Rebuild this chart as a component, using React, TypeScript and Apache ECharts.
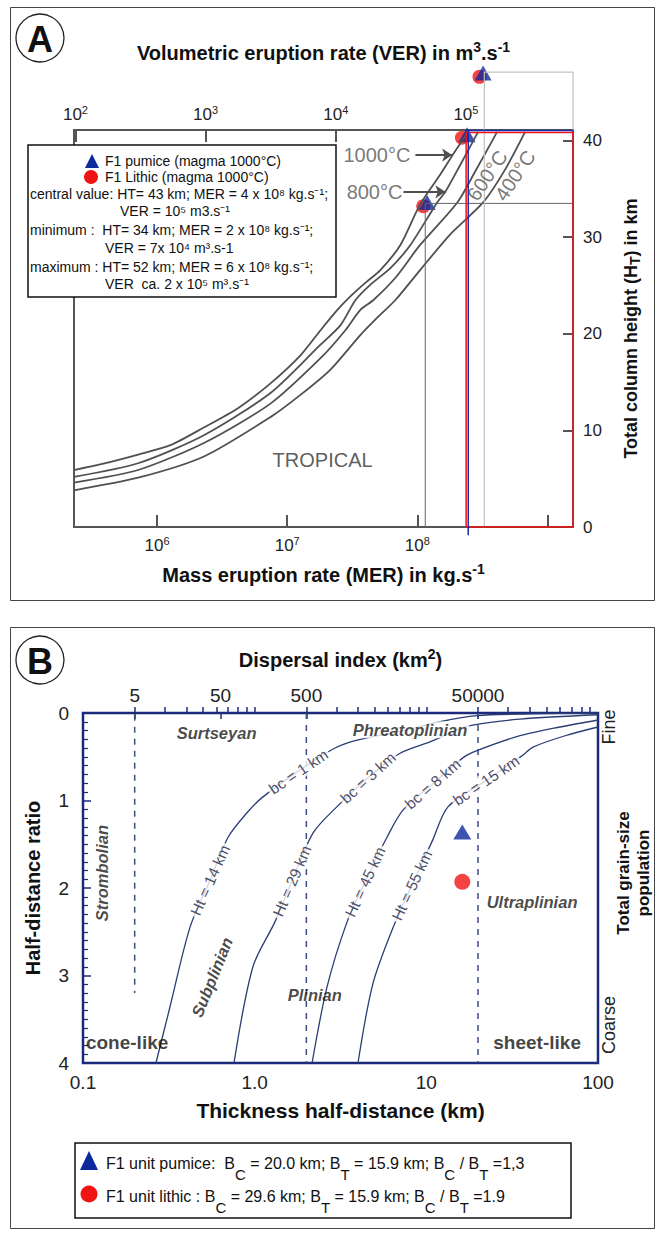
import React, { useEffect, useRef } from 'react';
import * as echarts from 'echarts';

const FONT = "'Liberation Sans', Arial, Helvetica, sans-serif";

// ================= Panel A : MER vs total column height (tropical) =================
// [mass eruption rate (kg/s), total column height (km)]
const curve1000C = [[2.3e5, 5.9], [3.72e5, 6.5], [7.15e5, 7.5], [1.28e6, 8.5], [2.29e6, 10.3], [4.18e6, 12.3], [7.48e6, 14.9], [1.27e7, 17.8], [1.81e7, 20.4], [2.44e7, 22.5], [3.07e7, 23.9], [4.0e7, 25.3], [5.2e7, 26.6], [7.41e7, 29.2], [1.05e8, 33.4], [1.5e8, 36.5], [1.95e8, 38.9], [2.46e8, 40.9]];
const curve800C = [[2.3e5, 5.2], [7.15e5, 6.6], [2.29e6, 9.5], [7.48e6, 13.9], [1.81e7, 18.9], [2.57e7, 20.9], [3.35e7, 23.5], [4.36e7, 25.1], [6.21e7, 26.8], [8.84e7, 29.2], [1.42e8, 33.6], [1.64e8, 34.7], [2.14e8, 37.5], [2.93e8, 40.9]];
const curve600C = [[2.3e5, 4.6], [7.15e5, 5.9], [2.29e6, 8.7], [7.48e6, 12.8], [1.81e7, 17.5], [2.81e7, 20.4], [3.66e7, 22.5], [4.6e7, 23.5], [6.78e7, 25.8], [1.05e8, 29.2], [2.03e8, 33.6], [2.78e8, 36.8], [4.1e8, 40.9]];
const curve400C = [[2.3e5, 3.8], [7.15e5, 5.1], [2.29e6, 7.3], [7.48e6, 11.4], [1.27e7, 13.7], [2.15e7, 16.3], [3.66e7, 19.9], [4.77e7, 21.5], [6.78e7, 23.5], [1.05e8, 26.6], [1.79e8, 30.3], [3.2e8, 33.6], [4.72e8, 37.0], [6.73e8, 40.9]];

// F1 estimates: max, central, min
const pumiceA = [[3.2e8, 47.0], [2.41e8, 40.6], [1.19e8, 33.6]];
const lithicA = [[3.0e8, 46.6], [2.2e8, 40.3], [1.11e8, 33.2]];

const MER_MIN = 2.3e5;
const MER_MAX = 1.57e9;
const HT_MAX = 41.1;
const VER_TO_MER = 2360; // kg/m3 implied by the two scales

// guide lines
const minGuide = [[1.15e8, 0], [1.15e8, 33.5], [MER_MAX, 33.5]];
const maxGuide = [[3.27e8, 0], [3.27e8, 47.1], [MER_MAX, 47.1], [MER_MAX, HT_MAX]];
const redBox = [[2.37e8, 0], [2.37e8, 40.85], [MER_MAX, 40.85], [MER_MAX, 0], [2.37e8, 0]];
const blueGuide = [[2.46e8, -0.85], [2.46e8, 41.05], [MER_MAX, 41.05]];

const merTickValues = [1e6, 1e7, 1e8, 1e9];
const merLabelValues = [1e6, 1e7, 1e8];
const verLabelValues = [1e2, 1e3, 1e4, 1e5];
const heightTicks = [0, 10, 20, 30, 40];

const aTempText = [
  { text: '1000°C', at: [8.84e7, 38.5], angle: 0, align: 'right' },
  { text: '800°C', at: [7.68e7, 34.7], angle: 0, align: 'right' },
  { text: '600°C', at: [3.44e8, 36.4], angle: 56, align: 'center' },
  { text: '400°C', at: [5.64e8, 36.4], angle: 56, align: 'center' },
];
const aArrows = [
  [[9.66e7, 38.5], [1.85e8, 38.5]],
  [[7.82e7, 34.7], [1.64e8, 34.7]],
];
const aRegion = { text: 'TROPICAL', at: [1.87e7, 6.9] };

// ================= Panel B : thickness half-distance vs half-distance ratio =================
// [thickness half-distance bt (km), half-distance ratio bc/bt]
const curveHt14 = [[0.266, 4.0], [0.321, 3.36], [0.42, 2.45], [0.55, 1.91], [0.70, 1.42], [0.902, 1.14], [1.10, 0.97], [1.84, 0.65], [2.94, 0.40], [3.95, 0.31], [7.03, 0.21], [12.0, 0.10], [19.7, 0.03], [40.2, 0.01], [100, 0.0]];
const curveHt29 = [[0.758, 4.0], [0.977, 2.90], [1.31, 2.39], [1.65, 1.92], [2.19, 1.37], [3.02, 1.07], [4.57, 0.74], [7.03, 0.46], [10.5, 0.33], [17.5, 0.15], [35.2, 0.07], [100, 0.02]];
const curveHt45 = [[2.16, 4.0], [2.64, 3.13], [3.45, 2.39], [4.40, 1.93], [5.90, 1.42], [7.31, 1.11], [10.9, 0.81], [16.4, 0.51], [19.7, 0.43], [33.7, 0.27], [60.1, 0.16], [100, 0.08]];
const curveHt55 = [[4.00, 4.0], [4.89, 3.09], [6.56, 2.40], [8.24, 1.97], [10.9, 1.45], [13.4, 1.07], [22.3, 0.77], [36.6, 0.48], [41.8, 0.39], [64.3, 0.26], [100, 0.16]];

const pumiceB = [[16.2, 1.36]];
const lithicB = [[16.2, 1.93]];

const regimeBoundaries = [
  { x: 0.2, from: 0.02, to: 3.2 },
  { x: 2, from: 0, to: 4 },
  { x: 20, from: 0, to: 4 },
];

const thicknessLabelValues = [0.1, 1, 10, 100];
const thicknessLabels = ['0.1', '1.0', '10', '100'];
const thicknessMinorTicks = [0.2, 0.3, 0.4, 0.5, 0.6, 0.7, 0.8, 0.9, 1, 2, 3, 4, 5, 6, 7, 8, 9, 10, 20, 30, 40, 50, 60, 70, 80, 90];
const dispersalLabels = [5, 50, 500, 50000];
const DISP_FACTOR = 125; // D = 125 * bt^2 (km2)

const bCurveLabels = [
  { text: 'Ht = 14 km', at: [0.55, 1.91], angle: 66 },
  { text: 'bc = 1 km', at: [1.80, 0.67], angle: 34 },
  { text: 'Ht = 29 km', at: [1.65, 1.92], angle: 67 },
  { text: 'bc = 3 km', at: [4.57, 0.74], angle: 42 },
  { text: 'Ht = 45 km', at: [4.40, 1.93], angle: 65 },
  { text: 'bc = 8 km', at: [10.9, 0.81], angle: 41 },
  { text: 'Ht = 55 km', at: [8.24, 1.97], angle: 65 },
  { text: 'bc = 15 km', at: [22.3, 0.77], angle: 34 },
];
const bRegimeText = [
  { text: 'Surtseyan', at: [0.60, 0.23], angle: 0, bg: false },
  { text: 'Phreatoplinian', at: [8.04, 0.19], angle: 0, bg: true },
  { text: 'Strombolian', at: [0.129, 1.83], angle: 90, bg: false },
  { text: 'Subplinian', at: [0.564, 3.02], angle: 68, bg: false },
  { text: 'Plinian', at: [2.24, 3.22], angle: 0, bg: false },
  { text: 'Ultraplinian', at: [41.3, 2.16], angle: 0, bg: false },
];
const bShapeText = [
  { text: 'cone-like', at: [0.104, 3.77], align: 'left' },
  { text: 'sheet-like', at: [44.2, 3.77], align: 'center' },
];

const NAVY = '#1b2a7a';
const CURVE_B = '#2b3d74';
const BLUE = '#0d2a9c';
const RED = '#f01414';

function buildOption(): any {
  const supRich = (size: number, raise: number) => ({ fontSize: size, fontFamily: FONT, color: '#222', padding: [0, 0, raise, 0] });
  const titleRich = (size: number) => ({
    t: { fontSize: size, fontWeight: 'bold', fontFamily: FONT, color: '#111' },
    p: { fontSize: Math.round(size * 0.7), fontWeight: 'bold', fontFamily: FONT, color: '#111', padding: [0, 0, 12, 0] },
    b: { fontSize: Math.round(size * 0.75), fontWeight: 'bold', fontFamily: FONT, color: '#111', padding: [9, 0, 0, 0] },
  });
  const pow10Rich = { b: { fontSize: 17, fontFamily: FONT, color: '#222' }, s: supRich(11, 10) };

  const annoBase = { type: 'scatter', silent: true, symbolSize: 1, itemStyle: { color: 'rgba(0,0,0,0)' }, clip: false, emphasis: { disabled: true }, z: 6 };

  const series: any[] = [
    // ---------- Panel A ----------
    {
      type: 'line', name: '1000°C', xAxisIndex: 0, yAxisIndex: 0, data: curve1000C, showSymbol: false, smooth: 0.25, silent: true,
      lineStyle: { color: '#505050', width: 1.8 },
      markLine: {
        silent: true, symbol: ['none', 'arrow'], symbolSize: 10, label: { show: false },
        lineStyle: { color: '#505050', width: 1.8, type: 'solid' },
        data: aArrows.map(([a, b]) => [{ coord: a }, { coord: b }]),
      },
    },
    { type: 'line', name: '800°C', xAxisIndex: 0, yAxisIndex: 0, data: curve800C, showSymbol: false, smooth: 0.25, silent: true, lineStyle: { color: '#505050', width: 1.8 } },
    { type: 'line', name: '600°C', xAxisIndex: 0, yAxisIndex: 0, data: curve600C, showSymbol: false, smooth: 0.25, silent: true, lineStyle: { color: '#505050', width: 1.8 } },
    { type: 'line', name: '400°C', xAxisIndex: 0, yAxisIndex: 0, data: curve400C, showSymbol: false, smooth: 0.25, silent: true, lineStyle: { color: '#505050', width: 1.8 } },
    { type: 'line', xAxisIndex: 0, yAxisIndex: 0, data: minGuide, showSymbol: false, clip: false, silent: true, lineStyle: { color: '#666', width: 1 } },
    { type: 'line', xAxisIndex: 0, yAxisIndex: 0, data: maxGuide, showSymbol: false, clip: false, silent: true, lineStyle: { color: '#c2c2c2', width: 1.2 } },
    { type: 'line', xAxisIndex: 0, yAxisIndex: 0, data: redBox, showSymbol: false, clip: false, silent: true, lineStyle: { color: RED, width: 1.5 } },
    { type: 'line', xAxisIndex: 0, yAxisIndex: 0, data: blueGuide, showSymbol: false, clip: false, silent: true, lineStyle: { color: '#1a2bb0', width: 1.5 } },
    { type: 'scatter', name: 'F1 Lithic', xAxisIndex: 0, yAxisIndex: 0, data: lithicA, symbol: 'circle', symbolSize: 14, clip: false, silent: true, itemStyle: { color: RED } },
    { type: 'scatter', name: 'F1 pumice', xAxisIndex: 0, yAxisIndex: 0, data: pumiceA, symbol: 'triangle', symbolSize: [17, 15], clip: false, silent: true, itemStyle: { color: BLUE } },
    {
      ...annoBase, xAxisIndex: 0, yAxisIndex: 0,
      data: [
        ...aTempText.map((t) => ({
          value: t.at,
          label: { show: true, position: 'inside', formatter: t.text, rotate: t.angle, align: t.align, verticalAlign: 'middle', fontSize: 20, color: '#555', fontFamily: FONT },
        })),
        {
          value: aRegion.at,
          label: { show: true, position: 'inside', formatter: aRegion.text, fontSize: 20, color: '#333', fontFamily: FONT },
        },
      ],
    },
    // ---------- Panel B ----------
    ...[curveHt14, curveHt29, curveHt45, curveHt55].map((d, i) => ({
      type: 'line', name: 'curve' + i, xAxisIndex: 2, yAxisIndex: 1, data: d, showSymbol: false, smooth: 0.3, silent: true,
      lineStyle: { color: CURVE_B, width: 1.3 },
    })),
    ...regimeBoundaries.map((b) => ({
      type: 'line', xAxisIndex: 2, yAxisIndex: 1, data: [[b.x, b.from], [b.x, b.to]], showSymbol: false, silent: true,
      lineStyle: { color: '#3a4c80', width: 1.5, type: [6, 6] },
    })),
    { type: 'scatter', name: 'F1 unit lithic', xAxisIndex: 2, yAxisIndex: 1, data: lithicB, symbol: 'circle', symbolSize: 16, silent: true, itemStyle: { color: RED } },
    { type: 'scatter', name: 'F1 unit pumice', xAxisIndex: 2, yAxisIndex: 1, data: pumiceB, symbol: 'triangle', symbolSize: [18, 15], silent: true, itemStyle: { color: BLUE } },
    {
      ...annoBase, xAxisIndex: 2, yAxisIndex: 1,
      data: [
        ...bCurveLabels.map((t) => ({
          value: t.at,
          label: { show: true, position: 'inside', formatter: t.text, rotate: t.angle, fontSize: 15.5, color: '#1c2240', fontFamily: FONT, backgroundColor: '#fff', padding: [0, 2] },
        })),
        ...bRegimeText.map((t) => ({
          value: t.at,
          label: { show: true, position: 'inside', formatter: t.text, rotate: t.angle, fontSize: 16.5, fontStyle: 'italic', fontWeight: 'bold', color: '#1a1a1a', fontFamily: FONT, backgroundColor: t.bg ? '#fff' : 'transparent', padding: [0, 2] },
        })),
        ...bShapeText.map((t) => ({
          value: t.at,
          label: { show: true, position: 'inside', formatter: t.text, align: t.align, fontSize: 19, fontWeight: 'bold', color: '#111', fontFamily: FONT },
        })),
      ],
    },
  ];

  const legendAText = [
    { text: 'F1 pumice (magma 1000°C)', x: 105, y: 161 },
    { text: 'F1 Lithic (magma 1000°C)', x: 105, y: 177 },
    { text: 'central value: HT= 43 km; MER = 4 x 10⁸ kg.s⁻¹;', x: 30, y: 194 },
    { text: 'VER = 10⁵ m3.s⁻¹', x: 120, y: 211 },
    { text: 'minimum :  HT= 34 km; MER = 2 x 10⁸ kg.s⁻¹;', x: 30, y: 230 },
    { text: 'VER = 7x 10⁴ m³.s-1', x: 105, y: 248 },
    { text: 'maximum : HT= 52 km; MER = 6 x 10⁸ kg.s⁻¹;', x: 30, y: 267 },
    { text: 'VER  ca. 2 x 10⁵ m³.s⁻¹', x: 105, y: 284 },
  ];

  const legRich = {
    n: { fontSize: 16, fontFamily: FONT, fill: '#111' },
    s: { fontSize: 15, fontFamily: FONT, fill: '#111', padding: [22, 0, 0, 0] },
  };

  const graphic = [
    { type: 'rect', silent: true, z: 1, shape: { x: 10.5, y: 7.5, width: 644, height: 593 }, style: { fill: 'none', stroke: '#444', lineWidth: 1 } },
    { type: 'rect', silent: true, z: 1, shape: { x: 10.5, y: 627.5, width: 644, height: 601 }, style: { fill: 'none', stroke: '#444', lineWidth: 1 } },
    { type: 'circle', silent: true, z: 1, shape: { cx: 40, cy: 38, r: 24 }, style: { fill: '#fff', stroke: '#222', lineWidth: 1.3 } },
    { type: 'text', silent: true, z: 2, x: 40, y: 39, style: { text: 'A', fontSize: 36, fontWeight: 'bold', fontFamily: FONT, fill: '#111', align: 'center', verticalAlign: 'middle' } },
    { type: 'circle', silent: true, z: 1, shape: { cx: 40, cy: 660, r: 24 }, style: { fill: '#fff', stroke: '#222', lineWidth: 1.3 } },
    { type: 'text', silent: true, z: 2, x: 40, y: 661, style: { text: 'B', fontSize: 36, fontWeight: 'bold', fontFamily: FONT, fill: '#111', align: 'center', verticalAlign: 'middle' } },
    // legend A
    { type: 'rect', silent: true, z: 20, shape: { x: 28, y: 145, width: 308, height: 152 }, style: { fill: '#fff', stroke: '#111', lineWidth: 1.5 } },
    { type: 'polygon', silent: true, z: 21, shape: { points: [[85, 168], [99, 168], [92, 154]] }, style: { fill: BLUE } },
    { type: 'circle', silent: true, z: 21, shape: { cx: 91, cy: 177, r: 7 }, style: { fill: RED } },
    ...legendAText.map((l) => ({
      type: 'text', silent: true, z: 21, x: l.x, y: l.y,
      style: { text: l.text, fontSize: 14, fontFamily: FONT, fill: '#111', align: 'left', verticalAlign: 'middle' },
    })),
    // legend B
    { type: 'rect', silent: true, z: 20, shape: { x: 75, y: 1143, width: 496, height: 75 }, style: { fill: '#fff', stroke: '#111', lineWidth: 1.5 } },
    { type: 'polygon', silent: true, z: 21, shape: { points: [[80, 1170], [98, 1170], [89, 1151]] }, style: { fill: BLUE } },
    { type: 'circle', silent: true, z: 21, shape: { cx: 89, cy: 1194, r: 8.5 }, style: { fill: RED } },
    {
      type: 'text', silent: true, z: 21, x: 106, y: 1163,
      style: { text: '{n|F1 unit pumice:  B}{s|C}{n| = 20.0 km; B}{s|T}{n| = 15.9 km; B}{s|C}{n| / B}{s|T}{n| =1,3}', rich: legRich, align: 'left', verticalAlign: 'middle' },
    },
    {
      type: 'text', silent: true, z: 21, x: 106, y: 1196,
      style: { text: '{n|F1 unit lithic : B}{s|C}{n| = 29.6 km; B}{s|T}{n| = 15.9 km; B}{s|C}{n| / B}{s|T}{n| =1.9}', rich: legRich, align: 'left', verticalAlign: 'middle' },
    },
    // right side texts panel B
    { type: 'text', silent: true, z: 2, x: 609, y: 727, rotation: Math.PI / 2, style: { text: 'Fine', fontSize: 18, fontFamily: FONT, fill: '#222', align: 'center', verticalAlign: 'middle' } },
    { type: 'text', silent: true, z: 2, x: 609, y: 1025, rotation: Math.PI / 2, style: { text: 'Coarse', fontSize: 18, fontFamily: FONT, fill: '#222', align: 'center', verticalAlign: 'middle' } },
    { type: 'text', silent: true, z: 2, x: 633, y: 873, rotation: Math.PI / 2, style: { text: 'Total grain-size\npopulation', fontSize: 17, fontWeight: 'bold', lineHeight: 20, fontFamily: FONT, fill: '#111', align: 'center', verticalAlign: 'middle' } },
  ];

  return {
    animation: false,
    backgroundColor: '#fff',
    textStyle: { fontFamily: FONT },
    grid: [
      { left: 74, top: 130, width: 499, height: 397, show: true, borderColor: '#555', borderWidth: 2, containLabel: false, outerBoundsMode: 'none' },
      { left: 83, top: 713, width: 515, height: 350, show: true, borderColor: NAVY, borderWidth: 2.5, containLabel: false, outerBoundsMode: 'none' },
    ],
    xAxis: [
      {
        gridIndex: 0, type: 'log', logBase: 10, position: 'bottom', min: MER_MIN, max: MER_MAX,
        axisLine: { show: false }, splitLine: { show: false },
        axisTick: { show: true, inside: true, length: 12, customValues: merTickValues, lineStyle: { color: '#555', width: 2 } },
        axisLabel: { customValues: merLabelValues, margin: 8, formatter: (v: number) => `{b|10}{s|${Math.round(Math.log10(v))}}`, rich: pow10Rich },
        name: '{t|Mass eruption rate (MER) in kg.s}{p|-1}', nameLocation: 'middle', nameGap: 35, nameTextStyle: { rich: titleRich(20) },
      },
      {
        gridIndex: 0, type: 'log', logBase: 10, position: 'top', min: MER_MIN, max: MER_MAX,
        axisLine: { show: false }, splitLine: { show: false },
        axisTick: { show: true, inside: true, length: 12, customValues: verLabelValues.map((v) => v * VER_TO_MER), lineStyle: { color: '#555', width: 2 } },
        axisLabel: { customValues: verLabelValues.map((v) => v * VER_TO_MER), margin: 5, formatter: (v: number) => `{b|10}{s|${Math.round(Math.log10(v / VER_TO_MER))}}`, rich: pow10Rich },
        name: '{t|Volumetric eruption rate (VER) in m}{p|3}{t|.s}{p|-1}', nameLocation: 'middle', nameGap: 64, nameTextStyle: { rich: titleRich(20) },
      },
      {
        gridIndex: 1, type: 'log', logBase: 10, position: 'bottom', min: 0.1, max: 100,
        axisLine: { show: false }, splitLine: { show: false },
        axisTick: { show: true, inside: true, length: 6, customValues: thicknessMinorTicks, lineStyle: { color: NAVY, width: 1.5 } },
        axisLabel: {
          customValues: thicknessLabelValues, margin: 10, fontSize: 19, color: '#222', fontFamily: FONT,
          formatter: (v: number) => {
            const i = thicknessLabelValues.findIndex((t) => Math.abs(Math.log10(t) - Math.log10(v)) < 1e-6);
            return i >= 0 ? thicknessLabels[i] : '';
          },
        },
        name: 'Thickness half-distance (km)', nameLocation: 'middle', nameGap: 37,
        nameTextStyle: { fontSize: 21, fontWeight: 'bold', color: '#111', fontFamily: FONT },
      },
      {
        gridIndex: 1, type: 'log', logBase: 10, position: 'top', min: 0.1, max: 100,
        axisLine: { show: false }, splitLine: { show: false },
        axisTick: { show: true, inside: true, length: 6, customValues: dispersalLabels.map((d) => Math.sqrt(d / DISP_FACTOR)), lineStyle: { color: NAVY, width: 1.5 } },
        axisLabel: {
          customValues: dispersalLabels.map((d) => Math.sqrt(d / DISP_FACTOR)), margin: 8, fontSize: 19, color: '#222', fontFamily: FONT,
          formatter: (v: number) => String(Math.round(DISP_FACTOR * v * v)),
        },
        name: '{t|Dispersal index (km}{p|2}{t|)}', nameLocation: 'middle', nameGap: 40, nameTextStyle: { rich: titleRich(20) },
      },
    ],
    yAxis: [
      {
        gridIndex: 0, type: 'value', position: 'right', min: 0, max: HT_MAX,
        axisLine: { show: false }, splitLine: { show: false },
        axisTick: { show: true, inside: true, length: 10, customValues: heightTicks, lineStyle: { color: '#555', width: 2 } },
        axisLabel: { customValues: heightTicks, margin: 10, fontSize: 17, color: '#222', fontFamily: FONT },
        name: '{t|Total column height (H}{b|T}{t|) in km}', nameLocation: 'middle', nameRotate: 90, nameGap: 46,
        nameTextStyle: { rich: titleRich(18) },
      },
      {
        gridIndex: 1, type: 'value', position: 'left', inverse: true, min: 0, max: 4, interval: 1,
        axisLine: { show: false }, splitLine: { show: false }, minorSplitLine: { show: false },
        axisTick: { show: true, inside: true, length: 8, lineStyle: { color: NAVY, width: 1.5 } },
        minorTick: { show: true, splitNumber: 10, length: 5, lineStyle: { color: NAVY, width: 1.2 } },
        axisLabel: { margin: 14, fontSize: 19, color: '#222', fontFamily: FONT },
        name: 'Half-distance ratio', nameLocation: 'middle', nameRotate: 90, nameGap: 40,
        nameTextStyle: { fontSize: 20, fontWeight: 'bold', color: '#111', fontFamily: FONT },
      },
    ],
    series,
    graphic: { elements: graphic },
  };
}

export default function App() {
  const ref = useRef<HTMLDivElement>(null);
  useEffect(() => {
    if (!ref.current) return;
    const chart = echarts.init(ref.current, undefined, { renderer: 'svg' });
    chart.setOption(buildOption());
    return () => chart.dispose();
  }, []);
  return <div ref={ref} style={{ position: 'absolute', left: 0, top: 0, width: 657, height: 1233, background: '#fff' }} />;
}
